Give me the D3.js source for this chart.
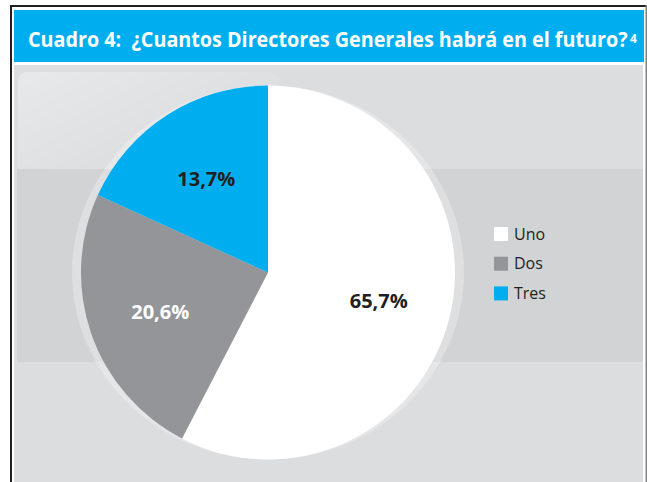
<!DOCTYPE html>
<html><head><meta charset="utf-8">
<script src="https://cdn.jsdelivr.net/npm/d3@7"></script>
<style>body{margin:0;background:#fff;} svg{display:block}</style>
</head><body><svg id="c" width="647" height="482"></svg>
<script>
// ---- data ----
const categories = ["Uno", "Dos", "Tres"];
const sliceShares = [57.6, 24.2, 18.2];          // slice sizes as drawn in the picture
const labelTexts = ["65,7%", "20,6%", "13,7%"];   // printed labels
const colors = ["#FFFFFF", "#939598", "#00AEEF"];
const labelColors = ["#231F20", "#FFFFFF", "#231F20"];
const titleText = "Cuadro 4:  ¿Cuantos Directores Generales habrá en el futuro?";
const titleNote = "4";

const svg = d3.select("#c");
const W = 647, H = 482;

// frame
svg.append("rect").attr("x", 0).attr("y", 0).attr("width", W).attr("height", H).attr("fill", "#fff");
svg.append("rect").attr("x", 10).attr("y", 5).attr("width", 637).attr("height", 2).attr("fill", "#231F20");
svg.append("rect").attr("x", 10).attr("y", 5).attr("width", 2).attr("height", H).attr("fill", "#231F20");
svg.append("rect").attr("x", 645.5).attr("y", 5).attr("width", 1.5).attr("height", H).attr("fill", "#808285");

// title bar
svg.append("rect").attr("x", 14).attr("y", 10).attr("width", 630).attr("height", 52).attr("fill", "#00AEEF");
const tMain = svg.append("text")
  .attr("font-family", "'Open Sans', sans-serif").attr("font-weight", 700).attr("font-size", 22)
  .attr("fill", "#fff").style("white-space", "pre").text(titleText);
const targetW = 600;
const natW = tMain.node().getComputedTextLength();
const sx = Math.min(1, targetW / natW);
tMain.attr("transform", `translate(28,46.5) scale(${sx},1)`);
svg.append("text").attr("x", 28 + natW * sx + 2).attr("y", 42.5)
  .attr("font-family", "'Open Sans', sans-serif").attr("font-weight", 700).attr("font-size", 12)
  .attr("fill", "#fff").text(titleNote);

// panel
svg.append("rect").attr("x", 14).attr("y", 65).attr("width", 629).attr("height", H - 65).attr("fill", "#DCDDDF");
const defs = svg.append("defs");
const g1 = defs.append("linearGradient").attr("id", "gloss").attr("x1", 0).attr("y1", 0).attr("x2", 1).attr("y2", 1);
g1.append("stop").attr("offset", 0).attr("stop-color", "#fff").attr("stop-opacity", 0.35);
g1.append("stop").attr("offset", 0.6).attr("stop-color", "#fff").attr("stop-opacity", 0.03);
svg.append("rect").attr("x", 18).attr("y", 72).attr("width", 260).attr("height", 120).attr("rx", 9)
  .attr("fill", "url(#gloss)");
svg.append("rect").attr("x", 17).attr("y", 169).attr("width", 626).attr("height", 193).attr("fill", "#D1D3D4");

// pie
const cx = 268, cy = 272.5, r = 187;
svg.append("ellipse").attr("cx", cx).attr("cy", cy).attr("rx", 196).attr("ry", r)
  .attr("fill", "#fff").attr("fill-opacity", 0.28);

const pie = d3.pie().sort(null).value(d => d)(sliceShares);
const arc = d3.arc().innerRadius(0).outerRadius(r);
const labelArc = d3.arc().innerRadius(114).outerRadius(114);
const pg = svg.append("g").attr("transform", `translate(${cx},${cy})`);
pg.selectAll("path").data(pie).join("path")
  .attr("d", arc).attr("fill", (d, i) => colors[i]);

pg.selectAll("text").data(pie).join("text")
  .attr("transform", d => `translate(${labelArc.centroid(d)})`)
  .attr("dy", "0.45em").attr("text-anchor", "middle")
  .attr("font-family", "'Open Sans', sans-serif").attr("font-weight", 700).attr("font-size", 20)
  .attr("fill", (d, i) => labelColors[i])
  .text((d, i) => labelTexts[i]);

// legend
const lg = svg.append("g").attr("transform", "translate(494,227)");
const items = lg.selectAll("g").data(categories).join("g")
  .attr("transform", (d, i) => `translate(0,${i * 29.7})`);
items.append("rect").attr("width", 14).attr("height", 14).attr("fill", (d, i) => colors[i]);
items.append("text").attr("x", 20).attr("y", 12.5)
  .attr("font-family", "'Open Sans', sans-serif").attr("font-size", 16).attr("fill", "#231F20")
  .text(d => d);
</script></body></html>
